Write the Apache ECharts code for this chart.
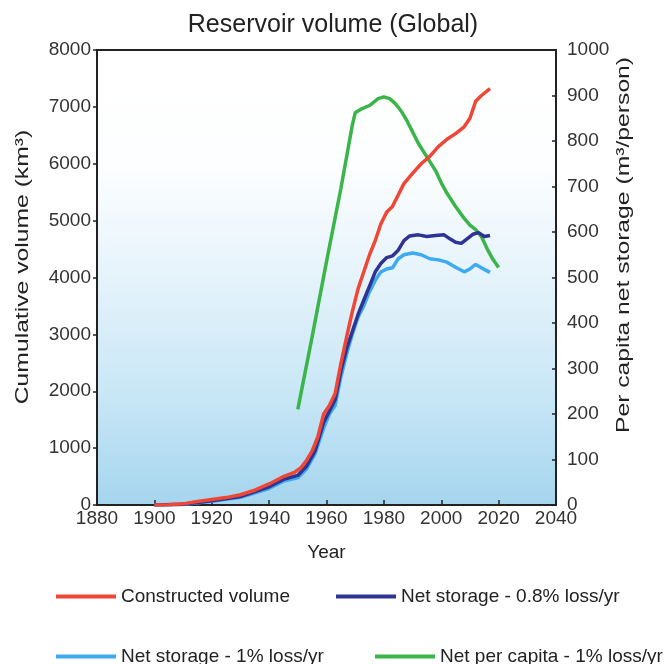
<!DOCTYPE html>
<html>
<head>
<meta charset="utf-8">
<title>Reservoir volume (Global)</title>
<script src="https://cdn.jsdelivr.net/npm/echarts@6/dist/echarts.min.js"></script>
<style>
  html, body { margin: 0; padding: 0; background: #fff; }
  #chart { width: 666px; height: 664px; }
</style>
</head>
<body>
<div id="chart"></div>
<script>
// constructed volume (km3, left axis)
const builtYears = [1900, 1905, 1910, 1915, 1920, 1925, 1930, 1935, 1940, 1945, 1949, 1951, 1953, 1955, 1957, 1959, 1961, 1963, 1965, 1967, 1969, 1971, 1973, 1975, 1977, 1979, 1981, 1983, 1985, 1987, 1990, 1993, 1996, 1999, 2002, 2005, 2008, 2010, 2012, 2014, 2017]
const builtVals = [0, 5, 20, 60, 95, 130, 180, 260, 370, 500, 580, 650, 780, 950, 1200, 1600, 1750, 1960, 2480, 2950, 3400, 3800, 4100, 4400, 4650, 4950, 5150, 5250, 5450, 5650, 5830, 6000, 6130, 6300, 6430, 6530, 6650, 6800, 7100, 7200, 7320]

// net storage, 0.8% loss per year
const net08Years = [1900, 1910, 1920, 1930, 1940, 1945, 1950, 1953, 1956, 1959, 1961, 1963, 1965, 1967, 1969, 1971, 1973, 1975, 1977, 1979, 1981, 1983, 1985, 1987, 1989, 1992, 1995, 1998, 2001, 2003, 2005, 2007, 2009, 2011, 2013, 2015, 2017]
const net08Vals = [0, 15, 75, 150, 320, 450, 520, 680, 950, 1450, 1650, 1850, 2350, 2750, 3050, 3350, 3600, 3850, 4100, 4250, 4350, 4380, 4480, 4650, 4730, 4750, 4720, 4740, 4750, 4680, 4620, 4600, 4680, 4760, 4790, 4720, 4740]

// net storage, 1% loss per year
const net1Years = [1900, 1910, 1920, 1930, 1940, 1945, 1950, 1953, 1956, 1959, 1961, 1963, 1965, 1967, 1969, 1971, 1973, 1975, 1977, 1979, 1981, 1983, 1985, 1987, 1990, 1993, 1996, 1999, 2002, 2005, 2008, 2010, 2012, 2014, 2017]
const net1Vals = [0, 10, 65, 135, 290, 420, 480, 630, 900, 1350, 1600, 1750, 2250, 2650, 3000, 3300, 3500, 3750, 3950, 4100, 4150, 4170, 4330, 4400, 4430, 4400, 4330, 4310, 4270, 4180, 4100, 4150, 4230, 4170, 4090]

// per capita net storage (m3/person, right axis)
const capYears = [1950, 1955, 1960, 1965, 1969, 1970, 1972, 1975, 1978, 1980, 1982, 1984, 1986, 1988, 1990, 1992, 1995, 1998, 2000, 2002, 2005, 2008, 2010, 2012, 2014, 2016, 2018, 2020]
const capVals = [210, 370, 535, 695, 835, 862, 870, 878, 893, 897, 893, 882, 866, 845, 820, 795, 765, 735, 708, 685, 656, 630, 615, 605, 590, 563, 540, 522]

const names = ['Constructed volume', 'Net storage - 0.8% loss/yr', 'Net storage - 1% loss/yr', 'Net per capita - 1% loss/yr']
const colors = ['#ef4636', '#2e3394', '#3eaaf0', '#3bb54a']

const pairs = (xs, ys) => xs.map((x, i) => [x, ys[i]])

const font = '"Liberation Sans", Arial, sans-serif'
const chart = echarts.init(document.getElementById('chart'))

const legendAt = (name, left, top) => ({
  data: [name],
  left: left,
  top: top,
  icon: 'rect',
  itemWidth: 60,
  itemHeight: 4,
  selectedMode: false,
  textStyle: { fontFamily: font, fontSize: 19, color: '#222' }
})

const line = (name, data, color, yIndex, z) => ({
  name: name,
  type: 'line',
  yAxisIndex: yIndex,
  data: data,
  showSymbol: false,
  z: z,
  lineStyle: { color: color, width: 3.5 },
  itemStyle: { color: color }
})

// rotated axis title, stretched along the text like the source image
const sideTitle = (text, x, y) => ({
  type: 'text',
  x: x,
  y: y,
  rotation: Math.PI / 2,
  scaleX: 1.3,
  style: {
    text: text,
    fontFamily: font,
    fontSize: 19,
    fill: '#222',
    textAlign: 'center',
    textVerticalAlign: 'middle'
  }
})

const plain = v => String(v)

chart.setOption({
  animation: false,
  title: {
    text: 'Reservoir volume (Global)',
    left: 'center',
    top: 8,
    textStyle: { fontFamily: font, fontSize: 25, fontWeight: 'normal', color: '#222' }
  },
  legend: [
    legendAt(names[0], 51, 582),
    legendAt(names[1], 331, 582),
    legendAt(names[2], 51, 642),
    legendAt(names[3], 370, 642)
  ],
  grid: {
    left: 97,
    right: 110,
    top: 50,
    bottom: 159,
    show: true,
    borderColor: '#222',
    borderWidth: 2,
    backgroundColor: {
      type: 'linear', x: 0, y: 0, x2: 0, y2: 1,
      colorStops: [
        { offset: 0, color: '#ffffff' },
        { offset: 0.25, color: '#fdfeff' },
        { offset: 0.5, color: '#e5f3fb' },
        { offset: 0.75, color: '#c9e7f6' },
        { offset: 1, color: '#a5d5ee' }
      ]
    }
  },
  xAxis: {
    type: 'value',
    min: 1880,
    max: 2040,
    interval: 20,
    name: 'Year',
    nameLocation: 'middle',
    nameGap: 38,
    nameTextStyle: { fontFamily: font, fontSize: 19, color: '#222' },
    axisLine: { lineStyle: { color: '#222', width: 2 } },
    axisTick: { inside: true, length: 5, lineStyle: { color: '#222', width: 1.5 } },
    axisLabel: { fontFamily: font, fontSize: 19, color: '#333', margin: 4, formatter: plain },
    splitLine: { show: false }
  },
  yAxis: [
    {
      type: 'value',
      min: 0,
      max: 8000,
      interval: 1000,
      axisLine: { show: true, lineStyle: { color: '#222', width: 2 } },
      axisTick: { show: true, length: 4, lineStyle: { color: '#222', width: 1.5 } },
      axisLabel: { fontFamily: font, fontSize: 19, color: '#333', margin: 6, formatter: plain },
      splitLine: { show: false }
    },
    {
      type: 'value',
      min: 0,
      max: 1000,
      interval: 100,
      position: 'right',
      axisLine: { show: true, lineStyle: { color: '#222', width: 2 } },
      axisTick: { show: true, inside: true, length: 4, lineStyle: { color: '#222', width: 1.5 } },
      axisLabel: { fontFamily: font, fontSize: 19, color: '#333', margin: 11, formatter: plain },
      splitLine: { show: false }
    }
  ],
  graphic: [
    sideTitle('Cumulative volume (km³)', 23, 267),
    sideTitle('Per capita net storage (m³/person)', 624, 245)
  ],
  series: [
    line(names[3], pairs(capYears, capVals), colors[3], 1, 2),
    line(names[2], pairs(net1Years, net1Vals), colors[2], 0, 3),
    line(names[1], pairs(net08Years, net08Vals), colors[1], 0, 4),
    line(names[0], pairs(builtYears, builtVals), colors[0], 0, 5)
  ]
})
</script>
</body>
</html>
